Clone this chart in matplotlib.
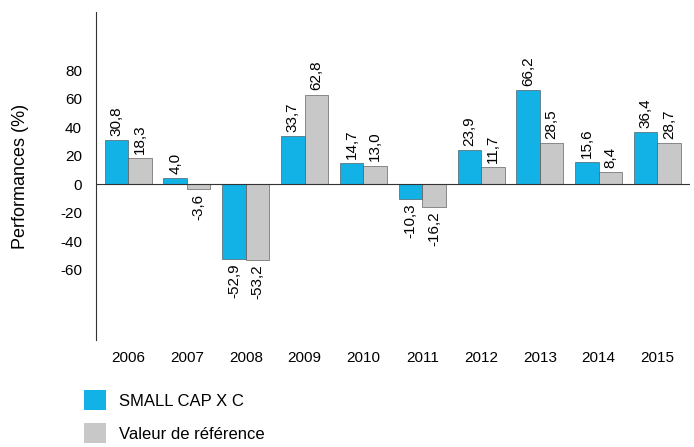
import matplotlib
matplotlib.use("Agg")
import matplotlib.pyplot as plt
import numpy as np
from matplotlib.patches import Patch

years = ["2006","2007","2008","2009","2010","2011","2012","2013","2014","2015"]
fund = [30.8, 4.0, -52.9, 33.7, 14.7, -10.3, 23.9, 66.2, 15.6, 36.4]
bench = [18.3, -3.6, -53.2, 62.8, 13.0, -16.2, 11.7, 28.5, 8.4, 28.7]
yticks = [-60, -40, -20, 0, 20, 40, 60, 80]

plt.rcParams['font.family'] = ['Liberation Sans', 'DejaVu Sans']
fig = plt.figure(figsize=(6.94, 4.47), dpi=100)
ax = fig.add_axes([0.138, 0.239, 0.856, 0.734])
x = np.arange(len(years))
w = 0.4
blue = '#12B2E6'; grey = '#C8C8C8'
b1 = ax.bar(x - w/2, fund, w, color=blue, edgecolor='#444444', linewidth=0.4)
b2 = ax.bar(x + w/2, bench, w, color=grey, edgecolor='#444444', linewidth=0.4)

def fmt(v):
    return f"{v:.1f}".replace('.', ',')

for bars, vals in ((b1, fund), (b2, bench)):
    for r, v in zip(bars, vals):
        cx = r.get_x() + r.get_width()/2
        if v >= 0:
            ax.annotate(fmt(v), (cx, v), xytext=(0, 3), textcoords='offset points',
                        rotation=90, ha='center', va='bottom', fontsize=11)
        else:
            ax.annotate(fmt(v), (cx, v), xytext=(0, -3), textcoords='offset points',
                        rotation=90, ha='center', va='top', fontsize=11)

ax.axhline(0, color='#333333', linewidth=0.8)
ax.set_xlim(-0.55, 9.55)
ax.set_ylim(-109.5, 120.7)
ax.set_yticks(yticks)
ax.set_yticklabels([str(t) for t in yticks], fontsize=11)
ax.set_xticks(x)
ax.set_xticklabels(years, fontsize=11)
ax.tick_params(length=0, pad=8)
ax.tick_params(axis='y', pad=10)
for s in ['top', 'right', 'bottom']:
    ax.spines[s].set_visible(False)
ax.spines['left'].set_color('#333333')
ax.set_ylabel('Performances (%)', fontsize=13, labelpad=22)

fig.legend(handles=[Patch(facecolor=blue, label='SMALL CAP X C'),
                    Patch(facecolor=grey, label='Valeur de référence')],
           loc='lower left', bbox_to_anchor=(0.1, -0.025), frameon=False,
           fontsize=12, handlelength=1.3, handleheight=1.5, labelspacing=0.75)
fig.savefig('out.png', dpi=100)
